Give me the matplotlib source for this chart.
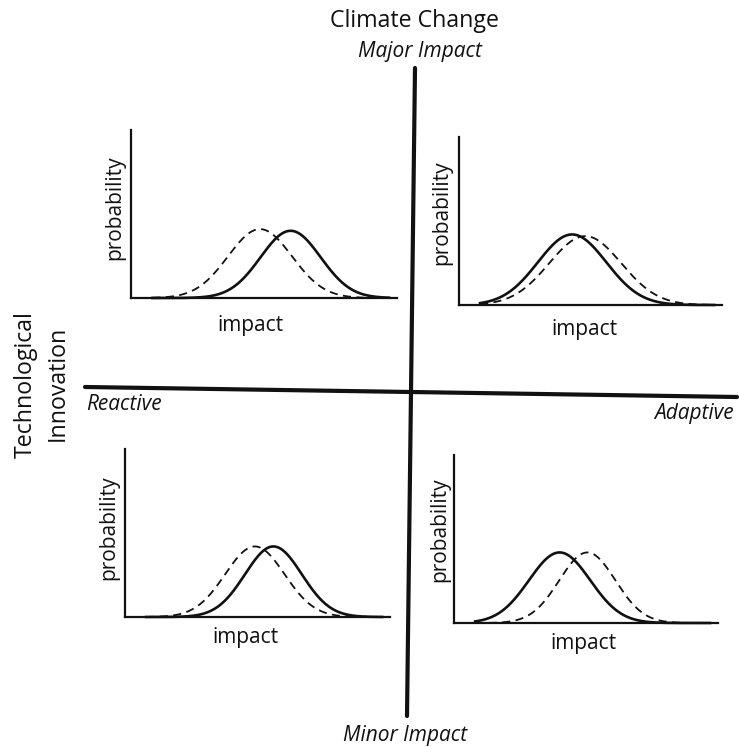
import numpy as np
import matplotlib.pyplot as plt

# Figure size in pixels (dpi 100)
W, H = 739, 747

# Quadrant order: top-left, top-right, bottom-left, bottom-right
QUADRANTS = ['reactive-major', 'adaptive-major', 'reactive-minor', 'adaptive-minor']

# Distribution parameters (fraction of panel width / height)
solid_peak = [0.60, 0.43, 0.56, 0.40]
solid_sigma = [0.113, 0.13, 0.107, 0.116]
solid_height = [0.40, 0.42, 0.42, 0.42]

dashed_peak = [0.485, 0.48, 0.49, 0.505]
dashed_sigma = [0.12, 0.137, 0.112, 0.106]
dashed_height = [0.41, 0.41, 0.42, 0.42]

# Panel boxes in pixels: left, right, baseline (bottom), top
PANELS = [
    (131, 397, 298, 130),
    (459, 722, 305, 137),
    (125, 390, 617, 449),
    (454, 718, 623, 455),
]
PROB_LABEL = [(115, 208), (442, 213), (109, 528), (440, 530)]
IMPACT_LABEL = [(250, 325), (584, 330), (245, 638), (583, 644)]

FONT = 'Open Sans'
INK = '#111111'


def px_rect(left, right, bottom, top):
    return [left / W, 1 - bottom / H, (right - left) / W, (bottom - top) / H]


def main():
    fig = plt.figure(figsize=(W / 100, H / 100), dpi=100)
    fig.patch.set_facecolor('white')

    # Overlay axes in pixel coordinates for the big cross and labels
    base = fig.add_axes([0, 0, 1, 1])
    base.set_xlim(0, W)
    base.set_ylim(H, 0)
    base.axis('off')

    base.plot([415, 407], [68, 716], color=INK, lw=3.0, solid_capstyle='round')
    base.plot([85, 737], [387, 397], color=INK, lw=3.0, solid_capstyle='round')

    base.text(414, 21, 'Climate Change', ha='center', va='center',
              fontsize=16.7, family=FONT, color=INK)
    base.text(420, 52, 'Major Impact', ha='center', va='center',
              fontsize=15, family=FONT, style='italic', color=INK)
    base.text(405, 735, 'Minor Impact', ha='center', va='center',
              fontsize=15, family=FONT, style='italic', color=INK)
    base.text(86, 405, 'Reactive', ha='left', va='center',
              fontsize=15, family=FONT, style='italic', color=INK)
    base.text(734, 414, 'Adaptive', ha='right', va='center',
              fontsize=15, family=FONT, style='italic', color=INK)
    base.text(26, 385, 'Technological', ha='center', va='center', rotation=90,
              fontsize=16.7, family=FONT, color=INK)
    base.text(58, 383, 'Innovation', ha='center', va='center', rotation=90,
              fontsize=16.7, family=FONT, color=INK)

    for i, q in enumerate(QUADRANTS):
        left, right, bottom, top = PANELS[i]
        ax = fig.add_axes(px_rect(left, right, bottom, top))
        ax.set_xlim(0, 1)
        ax.set_ylim(0, 1)
        ax.patch.set_alpha(0)
        for side in ['top', 'right']:
            ax.spines[side].set_visible(False)
        for side in ['left', 'bottom']:
            ax.spines[side].set_linewidth(1.6)
            ax.spines[side].set_color(INK)
        ax.set_xticks([])
        ax.set_yticks([])

        x = np.linspace(0.08, 0.97, 300)
        y_solid = solid_height[i] * np.exp(-0.5 * ((x - solid_peak[i]) / solid_sigma[i]) ** 2)
        y_dash = dashed_height[i] * np.exp(-0.5 * ((x - dashed_peak[i]) / dashed_sigma[i]) ** 2)
        ax.plot(x, y_solid, color=INK, lw=1.9, clip_on=False)
        ax.plot(x, y_dash, color=INK, lw=1.3, dashes=(4.5, 3), clip_on=False)

        px, py = PROB_LABEL[i]
        base.text(px, py, 'probability', ha='center', va='center', rotation=90,
                  fontsize=15, family=FONT, color=INK)
        ix, iy = IMPACT_LABEL[i]
        base.text(ix, iy, 'impact', ha='center', va='center',
                  fontsize=15, family=FONT, color=INK)

    fig.savefig('out.png', dpi=100, facecolor='white')
    plt.close(fig)


if __name__ == '__main__':
    main()
